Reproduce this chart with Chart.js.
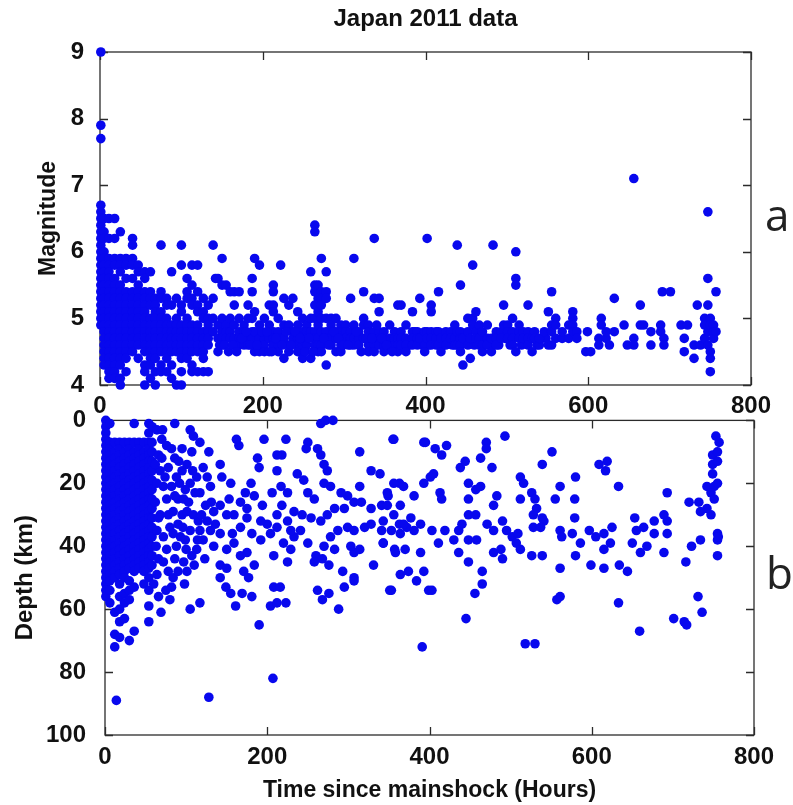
<!DOCTYPE html>
<html>
<head>
<meta charset="utf-8">
<script src="https://cdn.jsdelivr.net/npm/chart.js@4.4.1/dist/chart.umd.min.js"></script>
<style>
  html, body { margin: 0; padding: 0; background: #fff; }
  #wrap { position: relative; width: 793px; height: 805px; overflow: hidden; }
  #topBox { position: absolute; left: 0; top: 0; width: 793px; height: 420px; }
  #botBox { position: absolute; left: 0; top: 395px; width: 793px; height: 410px; }
  .tag { position: absolute; font-family: "Open Sans", sans-serif; font-size: 44px; line-height: 44px; color: #222; }
</style>
</head>
<body>
<div id="wrap">
  <div id="topBox"><canvas id="magChart"></canvas></div>
  <div id="botBox"><canvas id="depthChart"></canvas></div>
  <div class="tag" style="left:765px;top:192px;">a</div>
  <div class="tag" style="left:766px;top:550px;">b</div>
</div>
<script>
// ── data: hours after mainshock vs magnitude / depth ────────────────────────────
// Column lists are [hour, [values...]] for the crowded early part; the rest are
// plain [hour, value] pairs.
var TITLE = "Japan 2011 data";
var X_TICKS = [0, 200, 400, 600, 800];
var MAG_TICKS = [4, 5, 6, 7, 8, 9];
var DEPTH_TICKS = [0, 20, 40, 60, 80, 100];

var magMainshock = [[1, 9.0], [1, 7.9], [1, 7.7]];

var magEarlyColumns = [
  [1, [6.7,6.6,6.5,6.4,6.3,6.2,6.1,6.0,5.9,5.8,5.7,5.6,5.5,5.4,5.3,5.2,5.1,5.0,4.9]],
  [5, [6.5,6.3,6.2,6.0,5.9,5.8,5.7,5.6,5.5,5.4,5.3,5.2,5.1,5.0,4.9,4.8,4.7,4.6,4.5,4.4,4.3]],
  [11, [6.5,6.2,5.9,5.8,5.7,5.6,5.5,5.4,5.3,5.2,5.1,5.0,4.9,4.8,4.7,4.6,4.5,4.4,4.3,4.2,4.1]],
  [18, [6.5,6.2,5.9,5.8,5.6,5.5,5.4,5.3,5.2,5.1,5.0,4.9,4.8,4.7,4.6,4.5,4.4,4.3,4.2,4.1]],
  [25, [6.3,5.9,5.8,5.7,5.5,5.4,5.3,5.2,5.1,5.0,4.9,4.8,4.7,4.6,4.5,4.4,4.3,4.1,4.0]],
  [32, [5.9,5.8,5.6,5.4,5.3,5.2,5.1,5.0,4.9,4.8,4.7,4.6,4.5,4.4,4.2]],
  [40, [6.2,6.1,5.9,5.8,5.6,5.4,5.3,5.2,5.1,5.0,4.9,4.8,4.7,4.6,4.5]],
  [47, [5.8,5.7,5.5,5.4,5.3,5.2,5.1,5.0,4.9,4.8,4.7,4.6,4.4]],
  [55, [5.7,5.6,5.4,5.3,5.2,5.1,5.0,4.9,4.8,4.7,4.6,4.5,4.3,4.2,4.0]],
  [62, [5.7,5.4,5.3,5.2,5.0,4.9,4.8,4.7,4.6,4.5,4.4,4.3,4.1]],
  [68, [5.3,5.2,5.1,5.0,4.9,4.8,4.7,4.6,4.5,4.4,4.2,4.0]],
  [75, [6.1,5.4,5.3,5.1,5.0,4.9,4.8,4.7,4.6,4.5,4.3,4.2]],
  [82, [5.3,5.2,5.0,4.9,4.8,4.7,4.6,4.5,4.4,4.2]],
  [88, [5.7,5.2,4.9,4.8,4.7,4.6,4.5,4.3,4.1]],
  [94, [5.3,5.0,4.9,4.8,4.7,4.6,4.5,4.0]],
  [100, [6.1,5.8,5.2,5.1,4.9,4.8,4.7,4.6,4.5,4.4,4.2,4.0]],
  [107, [5.6,5.4,5.3,5.0,4.9,4.8,4.7,4.6,4.5,4.4]],
  [113, [5.8,5.5,5.3,5.2,4.9,4.8,4.7,4.6,4.5,4.3,4.2]],
  [120, [5.8,5.4,5.2,5.1,4.9,4.8,4.7,4.6,4.5,4.2]],
  [127, [5.3,5.1,5.0,4.8,4.7,4.6,4.5,4.4,4.2]],
  [133, [5.2,5.0,4.9,4.8,4.7,4.6,4.2]]
];

var magMidColumns = [
  [139, [6.1,5.3,5.0,4.8]], [142, [5.6]], [145, [5.6,4.9,4.7,4.5]],
  [150, [5.9,5.5,5.0,4.8,4.7,4.6]], [155, [5.5,4.9,4.8,4.7]], [160, [5.4,5.0,4.8,4.7]],
  [165, [5.4,5.2,4.9,4.7]], [171, [5.4,5.0,4.8,4.7,4.6]], [177, [4.9,4.8,4.7,4.6]],
  [182, [5.2,5.0,4.7,4.6]], [187, [5.6,5.4,5.0,4.8,4.7]], [190, [5.9,5.1,4.8,4.5]],
  [196, [5.8,4.9,4.7,4.5]], [202, [5.0,4.7,4.6,4.5]], [208, [5.2,4.9,4.7,4.5]],
  [213, [5.5,5.4,5.2,5.1,4.8,4.7,4.6]], [219, [5.0,4.8,4.6,4.5]], [222, [5.8,4.7]],
  [226, [5.3,4.9,4.7,4.4]], [232, [5.2,4.9,4.6,4.5]], [237, [5.3,4.8,4.7]],
  [243, [5.1,4.9,4.7,4.6,4.5]], [249, [5.0,4.8,4.6,4.4]], [254, [4.9,4.8,4.7,4.6]],
  [259, [5.7,5.0,4.8,4.4]], [264, [6.4,6.3,5.5,5.4,5.2,5.0,4.8,4.7,4.6]],
  [268, [5.5,5.3,5.1,4.9,4.7,4.6,4.5]], [272, [5.9,5.4,5.3,5.2,5.0,4.8,4.6,4.5]],
  [278, [5.7,5.4,5.3,5.0,4.8,4.7,4.3]], [284, [5.0,4.9,4.7,4.6]], [290, [5.0,4.8,4.7,4.5]],
  [296, [4.9,4.8,4.6,4.5]], [302, [4.9,4.8,4.7]], [308, [5.3,4.8,4.7,4.6]],
  [312, [5.9,4.9,4.7,4.6]], [318, [4.8,4.7,4.6]], [324, [5.4,5.0,4.9,4.7]],
  [330, [4.9,4.8,4.6,4.5]], [337, [6.2,5.3,4.8,4.6,4.5]], [343, [5.3,5.1,4.8,4.7,4.6]],
  [349, [4.8,4.7,4.6,4.5]], [356, [4.9,4.7,4.6]], [362, [4.8,4.7,4.6]], [366, [5.2,4.7,4.6,4.5]]
];

var magBandPoints = [
  [147,4.6],[153,4.6],[158,4.5],[163,4.6],[168,4.5],[174,4.7],[180,4.8],[185,4.6],[193,4.6],
  [199,4.8],[205,4.8],[211,4.5],[216,4.7],[224,4.6],[229,4.8],[235,4.6],[240,4.8],[246,4.7],
  [252,4.5],[257,4.7],[262,4.5],[275,4.7],[281,4.6],[287,4.8],[293,4.7],[299,4.6],[305,4.6],
  [315,4.8],[321,4.5],[327,4.7],[334,4.7],[340,4.9],[346,4.7],[352,4.6],[359,4.5],[373,4.7],
  [380,4.6],[387,4.8],[396,4.6],[404,4.6],[410,4.7],[422,4.6],[428,4.7],[433,4.6],[449,4.7],
  [460,4.6],[473,4.7],[479,4.6],[490,4.6],[498,4.7],[504,4.6],[518,4.6],[523,4.7],[537,4.6],
  [543,4.7],[548,4.7]
];

var magLatePoints = [
  [370,5.2],[370,4.8],[370,4.7],[370,4.6],[376,4.9],[376,4.7],[376,4.6],[376,4.5],
  [384,5.1],[384,4.8],[384,4.7],[384,4.6],[390,4.8],[390,4.7],[390,4.6],[393,5.3],[393,4.7],
  [399,4.8],[399,4.6],[399,4.5],[402,6.2],[402,4.8],[402,4.7],
  [407,5.2],[407,5.1],[407,4.8],[407,4.7],[407,4.6],[413,4.8],[413,4.7],[413,4.6],
  [416,5.4],[416,4.8],[416,4.6],[419,4.7],[419,4.5],[425,4.8],[425,4.7],[425,4.6],
  [431,4.8],[431,4.7],[436,4.9],[436,4.7],[436,4.6],[439,6.1],[439,4.8],[439,4.6],
  [443,5.5],[443,4.8],[443,4.7],[443,4.6],[443,4.5],[446,4.3],[446,4.7],
  [452,5.0],[452,4.8],[452,4.6],[455,4.4],[455,4.7],[458,5.8],[458,5.0],[458,4.9],
  [462,5.1],[462,4.8],[462,4.7],[466,4.9],[466,4.7],[466,4.6],[470,4.8],[470,4.6],[470,4.5],
  [476,4.9],[476,4.7],[476,4.6],[481,4.7],[481,4.5],[483,6.1],[487,4.8],[487,4.7],[487,4.6],
  [493,4.8],[493,4.7],[496,5.2],[496,4.9],[501,4.9],[501,4.8],[501,4.7],
  [507,5.0],[507,4.8],[507,4.7],[507,4.6],[511,6.0],[511,5.6],[511,5.5],[511,4.5],
  [515,4.9],[515,4.8],[515,4.7],[520,4.8],[520,4.7],[526,5.2],[526,4.8],[526,4.7],[526,4.6],
  [531,4.7],[531,4.5],[534,4.8],[534,4.7],[540,4.6],[540,4.7],[546,4.8],[551,5.1],[551,4.6],
  [555,5.4],[555,4.9],[555,4.8],[555,4.6],[560,5.0],[560,4.9],[560,4.7],[568,4.7],[568,4.8],
  [576,4.9],[576,4.7],[581,5.1],[581,5.0],[581,4.9],[581,4.8],[586,4.8],[586,4.7],
  [597,4.5],[599,4.8],[603,4.5],[613,4.7],[613,4.6],[616,5.0],[616,4.9],[622,4.7],[622,4.8],
  [626,4.6],[632,5.3],[632,4.8],[644,4.9],[648,4.6],[656,7.1],[656,4.7],[656,4.6],
  [664,5.2],[664,4.9],[668,4.9],[677,4.8],[677,4.6],[689,4.9],[689,4.8],[691,5.4],
  [693,4.7],[693,4.6],[701,5.4],[714,4.9],[718,4.7],[718,4.5],[722,4.9],[730,4.6],[730,4.4],
  [734,5.2],[738,4.6],[743,5.0],[743,4.9],[743,4.7],[747,6.6],[747,5.6],[747,5.2],[747,4.8],[747,4.6],
  [750,5.0],[750,4.9],[750,4.5],[750,4.4],[750,4.2],[754,4.9],[754,4.8],[754,4.7],[757,5.4],[757,4.8]
];

var depthEarlyColumns = [
  [1, [0,2,4,6,8,10,12,14,16,18,20,22,24,26,28,30,32,34,36,38,40,42,44,46,48,50,52,54,56]],
  [6, [1,7,9,11,13,15,17,19,21,23,25,27,29,31,33,35,37,39,41,43,45,47,49,51,54,58]],
  [12, [7,10,12,14,16,18,20,22,24,26,28,30,32,34,36,38,40,42,44,46,48,50,61,68,72]],
  [18, [7,9,11,13,15,17,19,21,23,25,27,29,31,33,35,37,39,41,43,45,47,49,52,56,60,64,69]],
  [24, [7,10,12,14,16,18,20,22,24,26,28,30,32,34,36,38,40,42,44,46,48,50,55,58,63]],
  [30, [7,9,11,13,15,17,19,21,23,25,27,29,31,33,35,37,39,41,43,45,47,51,54,57,70]],
  [36, [1,7,10,12,14,16,18,20,22,24,26,28,30,32,34,36,38,40,42,44,46,48,53,67]],
  [42, [7,9,11,13,15,17,19,21,23,25,27,29,31,33,35,37,39,41,43,45,47]],
  [48, [7,10,12,14,16,18,20,22,24,26,28,30,32,34,36,38,40,42,44,46,48,52]],
  [54, [1,4,7,9,11,13,15,17,19,21,23,25,27,29,31,33,35,37,39,41,43,45,47,50,54,59,64]],
  [58, [2,7,10,13,16,19,22,25,28,31,34,37,40,43,46]]
];

var depthMidPoints = [
  [14,89],[128,88],[207,82],[69,61],[82,53],[98,52],[105,60],[117,58],
  [64,3],[71,3],[70,6],[86,1],[76,8],[82,9],[86,12],[95,16],[101,14],[105,3],[109,5],[117,7],
  [128,10],[121,15],[113,18],[105,20],[99,22],[90,25],[84,29],[95,30],[117,23],[130,21],
  [142,14],[144,18],[155,20],[153,25],[142,27],[134,29],[124,27],[115,32],[130,35],[142,36],
  [157,36],[167,34],[175,28],[184,24],[173,23],[194,27],[206,23],[217,21],[225,23],[218,27],
  [212,30],[204,36],[192,38],[181,36],[175,42],[159,39],[150,41],[134,40],[121,38],[113,41],
  [107,43],[97,45],[86,44],[78,48],[84,50],[101,48],[142,46],[150,47],[167,43],[171,48],
  [184,46],[177,50],[142,50],[149,53],[155,55],[169,55],[181,56],[208,53],[216,53],[204,59],
  [212,58],[223,58],[225,45],[229,41],[220,39],[208,43],[233,37],[241,35],[250,39],[260,43],
  [268,44],[276,46],[258,45],[293,48],[295,53],[307,50],[288,60],[276,55],[268,57],[262,54],
  [270,40],[278,37],[287,35],[299,34],[307,35],[320,34],[328,33],[341,35],[353,35],[363,33],
  [266,32],[274,30],[283,28],[295,28],[307,26],[316,26],[328,28],[341,27],[349,24],[363,20],
  [355,6],[328,16],[339,17],[314,10],[314,21],[299,24],[291,23],[278,21],[270,20],[274,16],
  [270,14],[266,11],[262,9],[250,7],[248,9],[237,17],[245,19],[250,23],[258,25],[254,31],
  [243,30],[233,29],[225,32],[229,35],[212,34],[200,33],[192,32],[175,31],[159,30],[150,30],
  [167,26],[180,20],[190,15],[188,12],[196,6],[165,8],[162,6],[223,6],[218,11],[212,11],
  [212,16],[266,1],[272,0],[281,0],[357,41],[353,54],[343,39],[331,46],[307,42],[314,41],
  [303,40],[283,41],[307,51],[190,65],[161,59],
  [66,11],[68,16],[72,21],[76,25],[68,30],[64,35],[72,37],[80,34],[93,37],[88,40],[76,41],
  [66,44],[72,45],[78,15],[88,18],[82,21],[97,25],[101,29],[109,30],[126,32],[117,35],
  [105,35],[99,38],[90,33],[107,10],[95,9],[64,49],[66,56],[80,57],
  [62,14],[64,20],[62,26],[66,31],[63,40],[70,12],[74,18],[78,30],[84,36],[86,24],[91,13],
  [92,20],[96,34],[100,41],[103,26],[108,16],[111,23],[114,38],[119,30],[123,44],[126,18],
  [131,26],[136,33],[90,48],[110,46],[60,52],[75,54]
];

var depthLatePoints = [
  [356,6],[393,7],[395,7],[407,9],[415,11],[421,8],[438,15],[444,13],[463,12],[470,7],[470,9],
  [477,15],[493,5],[512,18],[516,20],[539,14],[551,10],[561,21],[580,18],[609,14],[619,13],
  [617,16],[633,21],[693,23],[753,5],[757,7],[749,11],[749,14],[749,17],[755,13],[755,10],
  [742,21],[751,21],[755,20],[747,23],[751,25],[747,30],[742,28],[734,29],[732,26],[720,26],
  [734,38],[723,40],[716,45],[731,56],[736,61],[701,63],[714,64],[717,65],[659,67],[633,58],
  [557,57],[561,56],[530,71],[518,71],[391,72],[445,63],[456,55],[465,52],[465,48],[448,45],
  [399,54],[403,54],[351,54],[364,49],[374,48],[384,51],[393,48],[370,41],[358,42],[389,42],
  [343,39],[364,36],[372,34],[381,35],[368,33],[377,31],[389,33],[356,30],[343,32],[348,27],
  [364,27],[381,24],[348,23],[356,20],[368,21],[393,20],[401,18],[405,17],[413,23],[415,25],
  [403,35],[411,39],[419,35],[430,38],[436,35],[440,33],[436,42],[448,38],[458,38],[448,25],
  [448,30],[457,30],[448,20],[457,22],[463,21],[479,27],[483,24],[471,33],[479,35],[490,32],
  [495,35],[502,37],[507,39],[509,36],[512,41],[479,42],[490,44],[488,41],[512,25],[526,23],
  [530,25],[532,28],[528,30],[539,31],[541,32],[528,34],[537,34],[526,43],[539,43],[555,25],
  [561,35],[563,37],[561,47],[576,36],[579,25],[579,31],[580,43],[586,39],[597,35],[605,37],
  [615,36],[625,34],[623,39],[615,41],[599,46],[615,47],[634,46],[644,48],[650,39],[653,31],
  [655,35],[660,42],[664,34],[668,40],[677,32],[677,36],[689,30],[693,32],[693,36],[689,42],
  [755,36],[755,38],[755,43],[756,37]
];

// ── helpers ─────────────────────────────────────────────────────────────────────
function toPoints(columns, pairs) {
  var out = [];
  columns.forEach(function (c) { c[1].forEach(function (v) { out.push({ x: c[0], y: v }); }); });
  pairs.forEach(function (p) { out.push({ x: p[0], y: p[1] }); });
  return out;
}

var DOT = "rgb(8,8,238)";
var AXIS = "#2b2b2b";
var FONT = '"Liberation Sans", Arial, sans-serif';
Chart.defaults.font.family = FONT;
Chart.defaults.color = "#111";

// box around the plot with MATLAB-style inward ticks on all four sides
var boxTicks = {
  id: "boxTicks",
  beforeDatasetsDraw: function (chart) {
    var ctx = chart.ctx, a = chart.chartArea, x = chart.scales.x, y = chart.scales.y, L = 8;
    ctx.save();
    ctx.strokeStyle = AXIS; ctx.lineWidth = 1.3;
    ctx.strokeRect(a.left, a.top, a.right - a.left, a.bottom - a.top);
    ctx.beginPath();
    x.ticks.forEach(function (t) {
      var px = Math.round(x.getPixelForValue(t.value)) + 0.5;
      ctx.moveTo(px, a.bottom); ctx.lineTo(px, a.bottom - L);
      ctx.moveTo(px, a.top); ctx.lineTo(px, a.top + L);
    });
    y.ticks.forEach(function (t) {
      var py = Math.round(y.getPixelForValue(t.value)) + 0.5;
      ctx.moveTo(a.left, py); ctx.lineTo(a.left + L, py);
      ctx.moveTo(a.right, py); ctx.lineTo(a.right - L, py);
    });
    ctx.stroke();
    ctx.restore();
  }
};

function scatterDataset(points) {
  return {
    data: points, showLine: false, clip: false,
    pointRadius: 4.8, pointHoverRadius: 4.8, pointStyle: "circle",
    backgroundColor: DOT, borderColor: DOT, borderWidth: 0
  };
}

function xScale(height, labelPad, title) {
  return {
    type: "linear", min: 0, max: 800,
    afterBuildTicks: function (s) { s.ticks = X_TICKS.map(function (v) { return { value: v }; }); },
    afterFit: function (s) { s.height = height; },
    grid: { display: false }, border: { display: false },
    ticks: { padding: labelPad, maxRotation: 0, font: { size: 24, weight: "bold" }, color: "#111" },
    title: title
  };
}

// ── top: magnitude ──────────────────────────────────────────────────────────────
new Chart(document.getElementById("magChart"), {
  type: "scatter",
  data: { datasets: [scatterDataset(toPoints(magEarlyColumns.concat(magMidColumns),
                      magMainshock.concat(magBandPoints, magLatePoints)))] },
  options: {
    responsive: true, maintainAspectRatio: false, animation: false, events: [],
    layout: { padding: { left: 0, top: 0, right: 42, bottom: 0 } },
    plugins: {
      legend: { display: false }, tooltip: { enabled: false },
      title: { display: true, text: TITLE, fullSize: false, color: "#111",
               font: { size: 24, weight: "bold" }, padding: { top: 5, bottom: 18.2 } }
    },
    scales: {
      x: xScale(35, -1, { display: false }),
      y: {
        type: "linear", min: 4, max: 9,
        afterBuildTicks: function (s) { s.ticks = MAG_TICKS.map(function (v) { return { value: v }; }); },
        afterFit: function (s) { s.width = 100; },
        grid: { display: false }, border: { display: false },
        ticks: { padding: 8, font: { size: 24, weight: "bold" }, color: "#111" },
        title: { display: true, text: "Magnitude", font: { size: 23, weight: "bold" }, color: "#111", padding: { top: 35, bottom: 0 } }
      }
    }
  },
  plugins: [boxTicks]
});

// ── bottom: depth ───────────────────────────────────────────────────────────────
new Chart(document.getElementById("depthChart"), {
  type: "scatter",
  data: { datasets: [scatterDataset(toPoints(depthEarlyColumns, depthMidPoints.concat(depthLatePoints)))] },
  options: {
    responsive: true, maintainAspectRatio: false, animation: false, events: [],
    layout: { padding: { left: 0, top: 20, right: 39, bottom: 0 } },
    plugins: { legend: { display: false }, tooltip: { enabled: false } },
    scales: {
      x: xScale(70, 0, { display: true, text: "Time since mainshock (Hours)", color: "#111",
                        font: { size: 23, weight: "bold" }, padding: { top: 0, bottom: 1 } }),
      y: {
        type: "linear", min: 0, max: 100, reverse: true,
        afterBuildTicks: function (s) { s.ticks = DEPTH_TICKS.map(function (v) { return { value: v }; }); },
        afterFit: function (s) { s.width = 105; },
        grid: { display: false }, border: { display: false },
        ticks: { padding: 11, font: { size: 24, weight: "bold" }, color: "#111" },
        title: { display: true, text: "Depth (km)", font: { size: 24, weight: "bold" }, color: "#111", padding: { top: 11, bottom: 0 } }
      }
    }
  },
  plugins: [boxTicks]
});
</script>
</body>
</html>
